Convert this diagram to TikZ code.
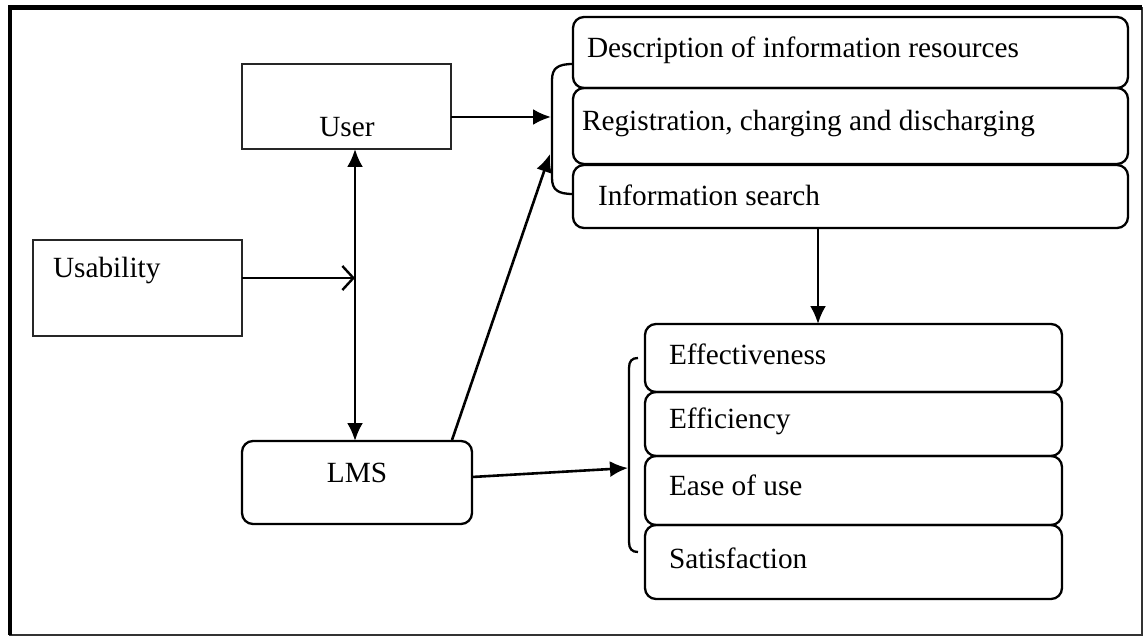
\documentclass[tikz,border=0pt]{standalone}
\usepackage{fontspec}
\setmainfont{Liberation Serif}
\usetikzlibrary{arrows.meta}
\begin{document}
\begin{tikzpicture}[x=1pt,y=-1pt,
  sqbox/.style={draw=black!85,line width=1.3pt,inner sep=0pt,outer sep=0pt,anchor=north west},
  rbox/.style={draw,line width=2.3pt,rounded corners=11pt,inner sep=0pt,outer sep=0pt,anchor=north west},
  txt/.style={inner sep=0pt,outer sep=0pt,font=\fontsize{29.3}{34}\selectfont},
  arr/.style={line width=2.6pt,-{Latex[length=18pt,width=16pt]}},
  darr/.style={line width=2.6pt,{Latex[length=18pt,width=16pt]}-{Latex[length=18pt,width=16pt]}},
  oarr/.style={line width=2.4pt,-{Straight Barb[length=11pt,width=24pt,line width=2.4pt]}},
  brk/.style={line width=2.3pt}]
\useasboundingbox (0,0) rectangle (1145,636);
% frame
\draw[line width=1.6pt,black!80] (10,8) rectangle (1142,635);
\draw[line width=4.5pt] (10,635) -- (10,7.5) -- (1142,7.5);
% boxes
\node[sqbox,minimum width=209pt,minimum height=85pt] (user) at (242,64) {};
\node[sqbox,minimum width=209pt,minimum height=96pt] (usab) at (33,240) {};
\node[rbox,minimum width=230pt,minimum height=83pt] (lms) at (242,441) {};
\node[rbox,minimum width=555pt,minimum height=71pt] (desc) at (573,17) {};
\node[rbox,minimum width=555pt,minimum height=76pt] (reg) at (573,88) {};
\node[rbox,minimum width=555pt,minimum height=63pt] (search) at (573,165) {};
\node[rbox,minimum width=417pt,minimum height=68pt] (eff) at (645,324) {};
\node[rbox,minimum width=417pt,minimum height=64pt] (effi) at (645,392) {};
\node[rbox,minimum width=417pt,minimum height=69pt] (ease) at (645,456) {};
\node[rbox,minimum width=417pt,minimum height=74pt] (sat) at (645,525) {};
% texts
\node[txt,anchor=base] (tuser) at (347,137) {User};
\node[txt,anchor=base west] (tusab) at (53,277) {Usability};
\node[txt,anchor=base] (tlms) at (357,482) {LMS};
\node[txt,anchor=base west] (tdesc) at (587,58) {Description of information resources};
\node[txt,anchor=base west] (treg) at (582,131) {Registration, charging and discharging};
\node[txt,anchor=base west] (tsearch) at (598,206) {Information search};
\node[txt,anchor=base west] (teff) at (669,364) {Effectiveness};
\node[txt,anchor=base west] (teffi) at (669,428) {Efficiency};
\node[txt,anchor=base west] (tease) at (669,495) {Ease of use};
\node[txt,anchor=base west] (tsat) at (669,568) {Satisfaction};
% brackets
\draw[brk] (573,64) .. controls (558,64) and (552,68) .. (552,80) -- (552,178) .. controls (552,190) and (558,194) .. (573,194);
\draw[brk] (638,358) .. controls (632,358) and (629,361) .. (629,368) -- (629,542) .. controls (629,549) and (632,552) .. (638,552);
% connector end points
\coordinate (b1) at (551,117);
\coordinate (b2) at (550,154);
\coordinate (b3) at (628,468);
\coordinate (j) at (355,278);
\coordinate (lmsr) at (452,440);
\coordinate (lmso) at (472,477);
\coordinate (srch) at (818,228);
% connectors
\draw[arr] (user.east |- b1) -- (b1);
\draw[arr] (lmsr) -- (b2);
\draw[darr] (user.south -| j) -- (lms.north -| j);
\draw[oarr] (usab.east |- j) -- (j);
\draw[arr] (srch) -- (eff.north -| srch);
\draw[arr] (lmso) -- (b3);
\end{tikzpicture}
\end{document}
